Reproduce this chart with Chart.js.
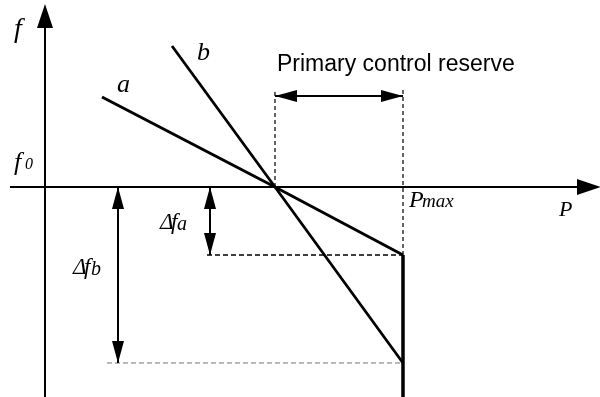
<!DOCTYPE html>
<html>
<head>
<meta charset="utf-8">
<script src="https://cdn.jsdelivr.net/npm/chart.js@4.4.1/dist/chart.umd.min.js"></script>
<style>
  html, body { margin: 0; padding: 0; background: #fff; }
  #wrap { width: 600px; height: 397px; }
</style>
</head>
<body>
<div id="wrap"><canvas id="droop"></canvas></div>
<script>
// droop characteristics: P on x, f deviation from f0 on y
const droopA_P = [57, 230, 358];
const droopA_f = [90, 0, -68];
const droopB_P = [127, 230, 358];
const droopB_f = [141, 0, -176];

const P_CROSS = 230;        // both droops cross f0 here
const P_MAX = 358;
const DF_A = -68;           // steady-state deviation, droop a
const DF_B = -176;          // steady-state deviation, droop b
const RESERVE_F = 91;       // height of the reserve arrow
const P_DFB = 73;           // where the Δf_b arrow stands
const P_DFA = 165;          // where the Δf_a arrow stands

const pts = (xs, ys) => xs.map((x, i) => ({ x: x, y: ys[i] }));

const solid = (data, width) => ({
  data: data, borderColor: '#000', borderWidth: width,
  pointRadius: 0, showLine: true, fill: false, tension: 0
});
const dashed = (data, color, width, dash) => ({
  data: data, borderColor: color, borderWidth: width, borderDash: dash,
  pointRadius: 0, showLine: true, fill: false, tension: 0
});

function arrowHead(ctx, x, y, dx, dy, len, half) {
  ctx.beginPath();
  ctx.moveTo(x, y);
  ctx.lineTo(x - dx * len - dy * half, y - dy * len + dx * half);
  ctx.lineTo(x - dx * len + dy * half, y - dy * len - dx * half);
  ctx.closePath();
  ctx.fill();
}

function doubleArrow(ctx, x1, y1, x2, y2) {
  const L = Math.hypot(x2 - x1, y2 - y1);
  const dx = (x2 - x1) / L, dy = (y2 - y1) / L;
  ctx.lineWidth = 2;
  ctx.beginPath();
  ctx.moveTo(x1, y1);
  ctx.lineTo(x2, y2);
  ctx.stroke();
  arrowHead(ctx, x2, y2, dx, dy, 22, 6);
  arrowHead(ctx, x1, y1, -dx, -dy, 22, 6);
}

const serif = '"Liberation Serif", "DejaVu Serif", serif';

function label(ctx, text, x, y, size) {
  ctx.font = 'italic ' + size + 'px ' + serif;
  ctx.fillText(text, x, y);
}

const annotations = {
  id: 'annotations',
  afterDatasetsDraw(chart) {
    const ctx = chart.ctx;
    const xs = chart.scales.x, ys = chart.scales.y;
    const X = v => xs.getPixelForValue(v);
    const Y = v => ys.getPixelForValue(v);
    ctx.save();
    ctx.fillStyle = '#000';
    ctx.strokeStyle = '#000';

    // axis arrowheads
    arrowHead(ctx, X(0), 4, 0, -1, 24, 8);
    arrowHead(ctx, 601, Y(0), 1, 0, 24, 8);

    // reserve band and deviations
    doubleArrow(ctx, X(P_CROSS), Y(RESERVE_F), X(P_MAX), Y(RESERVE_F));
    doubleArrow(ctx, X(P_DFA), Y(0), X(P_DFA), Y(DF_A));
    doubleArrow(ctx, X(P_DFB), Y(0), X(P_DFB), Y(DF_B));

    ctx.textBaseline = 'alphabetic';
    ctx.textAlign = 'left';

    label(ctx, 'f', 14, 37, 28);
    label(ctx, 'f', 14, 170, 26);
    label(ctx, '0', 25, 169, 16);

    label(ctx, 'a', 117, 92, 26);
    label(ctx, 'b', 197, 60, 26);

    label(ctx, 'P', 409, 207, 24);
    label(ctx, 'max', 422, 207, 19);
    label(ctx, 'P', 559, 216, 22);

    label(ctx, 'Δ', 160, 229, 23);
    label(ctx, 'f', 171, 229, 23);
    label(ctx, 'a', 177, 230, 20);
    label(ctx, 'Δ', 73, 274, 23);
    label(ctx, 'f', 84, 274, 23);
    label(ctx, 'b', 91, 275, 20);

    ctx.font = '23px "Liberation Sans", Arial, sans-serif';
    ctx.fillText('Primary control reserve', 277, 71);
    ctx.restore();
  }
};

new Chart(document.getElementById('droop'), {
  type: 'scatter',
  data: {
    datasets: [
      // axes
      solid([{ x: -35, y: 0 }, { x: 535, y: 0 }], 2),
      solid([{ x: 0, y: -210 }, { x: 0, y: 164 }], 2),
      // guide lines
      dashed([{ x: P_CROSS, y: 0 }, { x: P_CROSS, y: 98 }], '#000', 1.2, [4, 3]),
      dashed([{ x: P_MAX, y: DF_A }, { x: P_MAX, y: 98 }], '#000', 1.2, [4, 3]),
      dashed([{ x: P_DFA - 3, y: DF_A }, { x: P_MAX, y: DF_A }], '#000', 1.6, [5, 3]),
      dashed([{ x: P_DFB - 11, y: DF_B }, { x: P_MAX, y: DF_B }], '#777', 1.2, [5, 3]),
      // droop characteristics
      solid(pts(droopA_P, droopA_f), 3),
      solid(pts(droopB_P, droopB_f), 2.8),
      solid([{ x: P_MAX, y: DF_A }, { x: P_MAX, y: -212 }], 3.5)
    ]
  },
  options: {
    responsive: true,
    maintainAspectRatio: false,
    animation: false,
    layout: { padding: 0 },
    plugins: { legend: { display: false }, tooltip: { enabled: false } },
    scales: {
      x: { type: 'linear', min: -45, max: 555, display: false },
      y: { type: 'linear', min: -210, max: 187, display: false }
    }
  },
  plugins: [annotations]
});
</script>
</body>
</html>
